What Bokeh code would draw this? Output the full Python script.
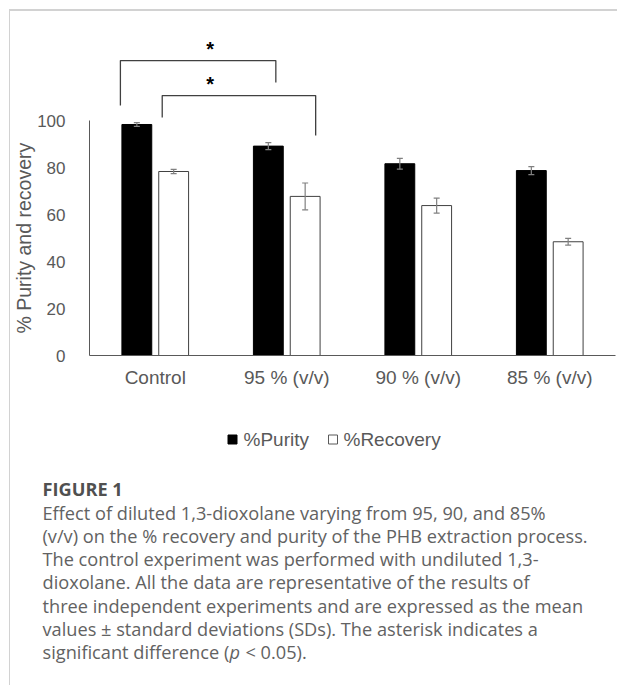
import numpy as np
from bokeh.plotting import figure
from bokeh.layouts import column
from bokeh.models import (ColumnDataSource, Range1d, FixedTicker, Whisker, TeeHead, Title)
from bokeh.embed import file_html
from bokeh.resources import INLINE
from bokeh.core.properties import value

# ---------------- data ----------------
categories = ["Control", "95 % (v/v)", "90 % (v/v)", "85 % (v/v)"]
purity = [98.3, 89.1, 81.6, 78.7]
purity_sd = [0.8, 1.5, 2.3, 1.7]
recovery = [78.3, 67.7, 63.8, 48.4]
recovery_sd = [0.9, 5.7, 3.2, 1.4]
y_ticks = [0, 20, 40, 60, 80, 100]
series_names = ["%Purity", "%Recovery"]

# significance brackets (x in category units, y in % units)
sig_x0 = [0.235, 0.553]
sig_x1 = [1.417, 1.72]
sig_top = [125.5, 110.6]
sig_left_end = [106.4, 101.3]
sig_right_end = [116.2, 93.6]
star_x = [0.917, 0.917]
star_y = [130.3, 115.4]
star_text = ["*", "*"]

y_title = "% Purity and recovery"
caption_title = "FIGURE 1"
caption_lines = [
    "Effect of diluted 1,3-dioxolane varying from 95, 90, and 85%",
    "(v/v) on the % recovery and purity of the PHB extraction process.",
    "The control experiment was performed with undiluted 1,3-",
    "dioxolane. All the data are representative of the results of",
    "three independent experiments and are expressed as the mean",
    "values \u00b1 standard deviations (SDs). The asterisk indicates a",
]
caption_last = ["significant difference (", "p", "< 0.05)."]

# ---------------- layout constants (page px) ----------------
OX, OY = 10, 11            # content origin on the page (inside the card border)
W = 607
SPLIT = 405                # page y where the caption figure starts
HA = SPLIT - OY
HB = 685 - SPLIT
FL, FB, FT, FR = 87, 355, 20, 615
PX_PER_UNIT = 2.35
y_top = (FB - FT) / PX_PER_UNIT

AXIS_GRAY = "#595959"
TEXT_GRAY = "#595959"
CAP_GRAY = "#626262"
FONT = "Liberation Sans"
CAP_FONT = "Open Sans"
CAP_SIZE = "18.2px"

# ================= chart figure =================
p = figure(width=W, height=HA, title=None,
           x_range=Range1d(0, len(categories)), y_range=Range1d(0, y_top),
           output_backend="svg", toolbar_location=None,
           min_border_left=FL - OX, min_border_right=W - (FR - OX),
           min_border_top=FT - OY, min_border_bottom=SPLIT - FB)
p.frame_align = False
p.xgrid.visible = False
p.ygrid.visible = False
p.outline_line_color = None

p.yaxis.ticker = FixedTicker(ticks=y_ticks)
p.yaxis.bounds = (0, 100)
p.yaxis.major_tick_in = 0
p.yaxis.major_tick_out = 0
p.yaxis.minor_tick_line_color = None
p.yaxis.major_label_standoff = 24
p.yaxis.major_label_text_font = FONT
p.yaxis.major_label_text_font_size = "17px"
p.yaxis.major_label_text_color = TEXT_GRAY
p.yaxis.axis_line_color = AXIS_GRAY

idx = np.arange(len(categories))
centers = idx + 0.5
p.xaxis.ticker = FixedTicker(ticks=list(centers))
p.xaxis.major_label_overrides = {float(c): lab for c, lab in zip(centers, categories)}
p.xaxis.major_tick_in = 0
p.xaxis.major_tick_out = 0
p.xaxis.minor_tick_line_color = None
p.xaxis.major_label_standoff = 11
p.xaxis.major_label_text_font = FONT
p.xaxis.major_label_text_font_size = "19px"
p.xaxis.major_label_text_color = TEXT_GRAY
p.xaxis.axis_line_color = AXIS_GRAY

off, bw = 0.14, 0.227
src_p = ColumnDataSource(dict(x=centers - off, top=purity,
                              upper=np.array(purity) + np.array(purity_sd),
                              lower=np.array(purity) - np.array(purity_sd)))
src_r = ColumnDataSource(dict(x=centers + off, top=recovery,
                              upper=np.array(recovery) + np.array(recovery_sd),
                              lower=np.array(recovery) - np.array(recovery_sd)))
PUR_FILL, PUR_LINE = "black", "black"
REC_FILL, REC_LINE = "white", "#404040"
p.vbar(x="x", top="top", width=bw, source=src_p, fill_color=PUR_FILL, line_color=PUR_LINE)
p.vbar(x="x", top="top", width=bw, source=src_r, fill_color=REC_FILL, line_color=REC_LINE)

ERR = "#808080"
for src in (src_p, src_r):
    p.add_layout(Whisker(source=src, base="x", upper="upper", lower="lower", level="overlay",
                         line_color=ERR, line_width=1.2,
                         upper_head=TeeHead(size=6, line_color=ERR, line_width=1.2),
                         lower_head=TeeHead(size=6, line_color=ERR, line_width=1.2)))

xs = [[a, a, b, b] for a, b in zip(sig_x0, sig_x1)]
ys = [[l, t, t, r] for l, t, r in zip(sig_left_end, sig_top, sig_right_end)]
p.multi_line(xs=xs, ys=ys, line_color="#404040", line_width=1.3)
p.text(x=star_x, y=star_y, text=star_text, text_font=value(FONT), text_font_size="20px",
       text_font_style="bold", text_align="center", text_baseline="middle", text_color="black")

# y axis title as a side-panel title; its start sits 22 px above the frame bottom
p.add_layout(Title(text=y_title, align="left", offset=22,
                   text_font=FONT, text_font_size="19.5px", text_font_style="normal",
                   text_color=TEXT_GRAY, standoff=0), "left")

# ================= legend + caption figure =================
q = figure(width=W, height=HB, title=None, x_range=Range1d(0, W), y_range=Range1d(HB, 0),
           x_axis_type=None, y_axis_type=None, output_backend="svg", toolbar_location=None,
           min_border=0, min_border_left=0, min_border_right=0, min_border_top=0,
           min_border_bottom=0)
q.frame_align = False
q.xgrid.visible = False
q.ygrid.visible = False
q.outline_line_color = None

def qx(px):
    return px - OX

def qy(py):
    return py - SPLIT

LEG_Y = 439
leg_box_x = [232, 332.5]
leg_text_x = [243, 343]
q.rect(x=[qx(v) for v in leg_box_x], y=[qy(LEG_Y)] * 2, width=9, height=9,
       fill_color=[PUR_FILL, REC_FILL], line_color=[PUR_LINE, "#595959"], line_width=1)
q.text(x=[qx(v) for v in leg_text_x], y=[qy(LEG_Y)] * 2, text=series_names,
       text_font=value(FONT), text_font_size="19px", text_color=TEXT_GRAY,
       text_baseline="middle", text_align="left")

CAP_X = 42
q.text(x=[qx(CAP_X)], y=[qy(488)], text=[caption_title], text_font=value(CAP_FONT),
       text_font_size=CAP_SIZE, text_font_style="bold", text_color="#505050",
       text_baseline="middle", text_align="left")
line_y = [qy(512 + 23.33 * i) for i in range(len(caption_lines) + 1)]
q.text(x=[qx(CAP_X)] * len(caption_lines), y=line_y[:-1], text=caption_lines,
       text_font=value(CAP_FONT), text_font_size=CAP_SIZE, text_color=CAP_GRAY,
       text_baseline="middle", text_align="left")
last_x = [CAP_X, 229, 245]
last_style = ["normal", "italic", "normal"]
for t, xx, st in zip(caption_last, last_x, last_style):
    q.text(x=[qx(xx)], y=[line_y[-1]], text=[t], text_font=value(CAP_FONT),
           text_font_size=CAP_SIZE, text_font_style=st, text_color=CAP_GRAY,
           text_baseline="middle", text_align="left")

layout = column(p, q, spacing=0)
layout.styles = {"margin-left": "9px", "margin-top": "9px",
                 "border-top": "2px solid #d2d2d2", "border-left": "1px solid #d2d2d2"}

open("out.html", "w").write(file_html(layout, INLINE))
